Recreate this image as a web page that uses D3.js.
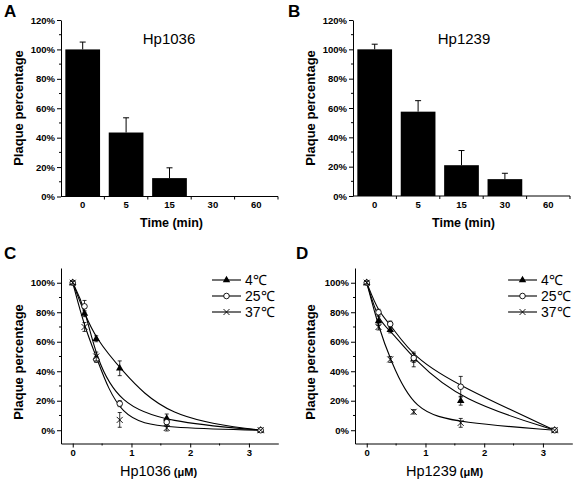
<!DOCTYPE html>
<html><head><meta charset="utf-8">
<script src="https://cdn.jsdelivr.net/npm/d3@7"></script>
<style>body{margin:0;background:#fff}svg{display:block}</style>
</head><body>
<svg id="c" width="574" height="482"></svg>
<script>
// ---- data ----
const timeCats = ["0", "5", "15", "30", "60"];
const hp1036Time = [100, 43.5, 12.5, 0, 0];
const hp1036TimeErr = [5, 10, 7, 0, 0];
const hp1239Time = [100, 57.5, 21, 11.5, 0];
const hp1239TimeErr = [3.5, 7.5, 10, 4, 0];
const pctTicks = [0, 20, 40, 60, 80, 100, 120];

const conc = [0, 0.2, 0.4, 0.8, 1.6, 3.2];
const tempLabels = ["4\u2103", "25\u2103", "37\u2103"];
const c4 = [100, 79, 62, 42, 8, 0];
const c4Err = [1, 2, 2, 5, 3, 0];
const c25 = [100, 84, 48, 18, 5.5, 0];
const c25Err = [1, 4, 2, 2, 2, 0];
const c37 = [100, 70, 50, 7, 1.5, 0];
const c37Err = [1, 3, 3, 5, 2, 0];
const d4 = [100, 74, 68, 48, 20, 0];
const d4Err = [1, 3, 2, 5, 3, 0];
const d25 = [100, 80, 72, 49, 29.5, 0];
const d25Err = [1, 2, 2, 3, 7, 0];
const d37 = [100, 70, 48, 12.5, 5, 0];
const d37Err = [1, 2, 2, 1.5, 3, 0];
const concTicks = [0, 1, 2, 3];

const svg = d3.select("#c");
const FONT = "Arial, 'Liberation Sans', Helvetica, sans-serif";
const fmtPct = d => d + "%";

function styleAxis(g) {
  g.selectAll("path,line").attr("stroke", "#000").attr("stroke-width", 1);
  g.selectAll("text").attr("font-family", FONT).attr("font-weight", "bold").attr("font-size", "9.5px").attr("fill", "#000");
}

function yAxisPct(x0, y, ticksMaj, minorVals) {
  const g = svg.append("g").attr("transform", `translate(${x0},0)`);
  g.call(d3.axisLeft(y).tickValues(ticksMaj).tickFormat(fmtPct).tickSize(4).tickSizeOuter(0).tickPadding(2));
  styleAxis(g);
  g.selectAll(".minor").data(minorVals).join("line").attr("class", "minor")
    .attr("x1", 0).attr("x2", -2).attr("y1", d => y(d)).attr("y2", d => y(d)).attr("stroke", "#000");
  return g;
}

function panelLabel(t, x, y) {
  svg.append("text").attr("x", x).attr("y", y).text(t)
    .attr("font-family", FONT).attr("font-weight", "bold").attr("font-size", "17px");
}

function yLabel(cx, cy) {
  svg.append("text").attr("transform", `translate(${cx},${cy}) rotate(-90)`)
    .attr("text-anchor", "middle").text("Plaque percentage")
    .attr("font-family", FONT).attr("font-weight", "bold").attr("font-size", "13px");
}

// ---- bar panels ----
function barPanel(opt) {
  const x = d3.scaleBand().domain(timeCats).range([opt.x0, opt.x1]).paddingInner(0.2).paddingOuter(0.1);
  const y = d3.scaleLinear().domain([0, 120]).range([opt.yb, opt.yt]);
  svg.append("g").selectAll("rect").data(opt.vals).join("rect")
    .attr("x", (d, i) => x(timeCats[i])).attr("width", x.bandwidth())
    .attr("y", d => y(d)).attr("height", d => y(0) - y(d)).attr("fill", "#000");
  const eg = svg.append("g").attr("stroke", "#000").attr("stroke-width", 1);
  opt.vals.forEach((v, i) => {
    if (!opt.errs[i]) return;
    const cx = x(timeCats[i]) + x.bandwidth() / 2;
    eg.append("line").attr("x1", cx).attr("x2", cx).attr("y1", y(v)).attr("y2", y(v + opt.errs[i]));
    eg.append("line").attr("x1", cx - 3).attr("x2", cx + 3).attr("y1", y(v + opt.errs[i])).attr("y2", y(v + opt.errs[i]));
  });
  const gx = svg.append("g").attr("transform", `translate(0,${opt.yb})`);
  gx.call(d3.axisBottom(x).tickSize(0).tickPadding(5));
  styleAxis(gx);
  gx.select(".domain").attr("d", `M${opt.x0},0H${opt.x1}`);
  const step = x.step();
  const bounds = d3.range(1, timeCats.length + 1).map(k => opt.x0 + step * k);
  gx.selectAll(".bt").data(bounds).join("line").attr("class", "bt")
    .attr("x1", d => d).attr("x2", d => d).attr("y1", 0).attr("y2", 3).attr("stroke", "#000");
  yAxisPct(opt.x0, y, pctTicks, [10, 30, 50, 70, 90, 110]);
  svg.append("text").attr("x", opt.titleX).attr("y", 44).attr("text-anchor", "middle").text(opt.title)
    .attr("font-family", FONT).attr("font-size", "15px");
  svg.append("text").attr("x", (opt.x0 + opt.x1) / 2 + 2).attr("y", 227).attr("text-anchor", "middle").text("Time (min)")
    .attr("font-family", FONT).attr("font-weight", "bold").attr("font-size", "12.5px");
}

barPanel({x0: 61, x1: 278, yb: 196.5, yt: 20, vals: hp1036Time, errs: hp1036TimeErr, title: "Hp1036", titleX: 169});
barPanel({x0: 353, x1: 570, yb: 196, yt: 20, vals: hp1239Time, errs: hp1239TimeErr, title: "Hp1239", titleX: 464});
panelLabel("A", 4, 17); panelLabel("B", 288, 17);
yLabel(23, 108); yLabel(315, 108);

// ---- line panels ----
function marker(g, type, cx, cy) {
  if (type === 0) {
    g.append("path").attr("d", d3.symbol(d3.symbolTriangle, 24)()).attr("transform", `translate(${cx},${cy})`).attr("fill", "#000");
  } else if (type === 1) {
    g.append("circle").attr("cx", cx).attr("cy", cy).attr("r", 2.8).attr("fill", "#fff").attr("stroke", "#000").attr("stroke-width", 0.9);
  } else {
    g.append("path").attr("d", `M${cx - 3},${cy - 3}L${cx + 3},${cy + 3}M${cx - 3},${cy + 3}L${cx + 3},${cy - 3}`)
      .attr("stroke", "#000").attr("stroke-width", 0.9);
  }
}

function linePanel(opt) {
  const x = d3.scaleLinear().domain([-0.2, 3.5]).range([opt.x0, opt.x1]);
  const y = d3.scaleLinear().domain([-9, 110]).range([443.5, 268]);
  const line = d3.line().x((d, i) => x(conc[i])).y(d => y(d)).curve(d3.curveBasis);
  const g = svg.append("g");
  opt.series.forEach(s => {
    g.append("path").datum(s.v).attr("d", line).attr("fill", "none").attr("stroke", "#000").attr("stroke-width", 1.1);
  });
  opt.series.forEach((s, k) => {
    const eg = g.append("g").attr("stroke", "#000").attr("stroke-width", 0.8);
    s.v.forEach((v, i) => {
      const e = s.e[i];
      if (!e) return;
      const cx = x(conc[i]);
      eg.append("line").attr("x1", cx).attr("x2", cx).attr("y1", y(v - e)).attr("y2", y(v + e));
      eg.append("line").attr("x1", cx - 2).attr("x2", cx + 2).attr("y1", y(v - e)).attr("y2", y(v - e));
      eg.append("line").attr("x1", cx - 2).attr("x2", cx + 2).attr("y1", y(v + e)).attr("y2", y(v + e));
    });
    s.v.forEach((v, i) => marker(g, k, x(conc[i]), y(v)));
  });
  const gx = svg.append("g").attr("transform", `translate(0,443.5)`);
  gx.call(d3.axisBottom(x).tickValues(concTicks).tickFormat(d3.format("d")).tickSize(4).tickSizeOuter(0).tickPadding(2));
  styleAxis(gx);
  gx.selectAll(".mx").data([0.5, 1.5, 2.5]).join("line").attr("class", "mx")
    .attr("x1", d => x(d)).attr("x2", d => x(d)).attr("y1", 0).attr("y2", 2).attr("stroke", "#000");
  yAxisPct(opt.x0, y, [0, 20, 40, 60, 80, 100], [10, 30, 50, 70, 90]);
  const lg = svg.append("g");
  tempLabels.forEach((t, k) => {
    const yy = 280 + k * 16;
    lg.append("line").attr("x1", opt.lx).attr("x2", opt.lx + 29).attr("y1", yy).attr("y2", yy).attr("stroke", "#000").attr("stroke-width", 1.1);
    marker(lg, k, opt.lx + 14.5, yy);
    lg.append("text").attr("x", opt.lx + 33).attr("y", yy + 5).text(t)
      .attr("font-family", FONT).attr("font-size", "14px");
  });
  const xl = svg.append("text").attr("x", opt.xlx).attr("y", 476).attr("font-family", FONT);
  xl.append("tspan").text(opt.name).attr("font-size", "14.5px");
  xl.append("tspan").text(" (\u03bcM)").attr("font-size", "11px").attr("font-weight", "bold");
}

linePanel({x0: 61, x1: 278.3, lx: 212, xlx: 120, name: "Hp1036",
  series: [{v: c4, e: c4Err}, {v: c25, e: c25Err}, {v: c37, e: c37Err}]});
linePanel({x0: 355, x1: 572.3, lx: 508, xlx: 406, name: "Hp1239",
  series: [{v: d4, e: d4Err}, {v: d25, e: d25Err}, {v: d37, e: d37Err}]});
panelLabel("C", 4, 259); panelLabel("D", 296, 259);
yLabel(23, 362); yLabel(315, 362);
</script>
</body></html>
